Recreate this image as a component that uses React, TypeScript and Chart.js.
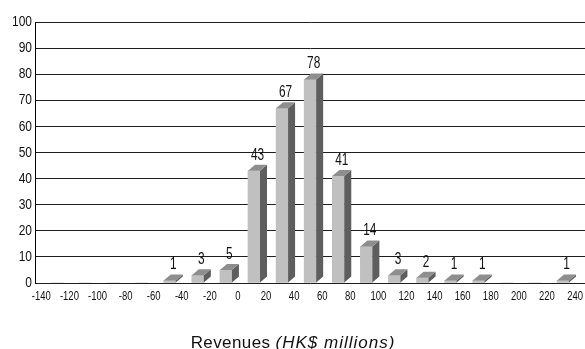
import React, { useEffect, useRef } from "react";
import { Chart, registerables } from "chart.js";

Chart.register(...registerables);

// ---- data ----
const binCenters = [-130, -110, -90, -70, -50, -30, -10, 10, 30, 50, 70, 90, 110, 130, 150, 170, 190, 210, 230];
const counts = [0, 0, 0, 0, 1, 3, 5, 43, 67, 78, 41, 14, 3, 2, 1, 1, 0, 0, 1];
const xTickValues = [-140, -120, -100, -80, -60, -40, -20, 0, 20, 40, 60, 80, 100, 120, 140, 160, 180, 200, 220, 240];
const yTickValues = [0, 10, 20, 30, 40, 50, 60, 70, 80, 90, 100];
const titleMain = "Revenues ";
const titleItalic = "(HK$ millions)";

// ---- style ----
const SANS = "'Liberation Sans', Arial, Helvetica, sans-serif";
const NARROW_SCALE = 0.8;
const DX = 7;
const DY = 6;
const FRONT = "#c0c0c0";
const SIDE = "#5e5e5e";
const TOP = "#8e8e8e";
const TEXT = "#111";

function narrowText(ctx: any, text: string, x: number, y: number, size: number, align: string, baseline: string, sx = NARROW_SCALE) {
  ctx.save();
  ctx.translate(x, y);
  ctx.scale(sx, 1);
  ctx.font = `${size}px ${SANS}`;
  ctx.fillStyle = TEXT;
  ctx.textAlign = align;
  ctx.textBaseline = baseline;
  ctx.fillText(text, 0, 0);
  ctx.restore();
}

const bar3dPlugin = {
  id: "bar3d",
  afterDatasetsDraw(chart: any) {
    const ctx = chart.ctx;
    const meta = chart.getDatasetMeta(0);
    ctx.save();
    meta.data.forEach((el: any, i: number) => {
      const v = counts[i];
      if (!v) return;
      const p = el.getProps(["x", "y", "base", "width"], true);
      const l = p.x - p.width / 2;
      const r = p.x + p.width / 2;
      const t = p.y;
      const b = p.base;
      ctx.fillStyle = SIDE;
      ctx.beginPath();
      ctx.moveTo(r, t);
      ctx.lineTo(r + DX, t - DY);
      ctx.lineTo(r + DX, b - DY);
      ctx.lineTo(r, b);
      ctx.closePath();
      ctx.fill();
      ctx.fillStyle = TOP;
      ctx.beginPath();
      ctx.moveTo(l, t);
      ctx.lineTo(l + DX, t - DY);
      ctx.lineTo(r + DX, t - DY);
      ctx.lineTo(r, t);
      ctx.closePath();
      ctx.fill();
      narrowText(ctx, String(v), p.x + DX / 2, t - 11, 16, "center", "alphabetic", 0.74);
    });
    ctx.restore();
  },
};

const labelsPlugin = {
  id: "axisLabels",
  afterDraw(chart: any) {
    const ctx = chart.ctx;
    const xs = chart.scales.x;
    const ys = chart.scales.y;
    yTickValues.forEach((v) => {
      narrowText(ctx, String(v), ys.right - 3, ys.getPixelForValue(v), 15, "right", "middle");
    });
    xTickValues.forEach((v) => {
      narrowText(ctx, String(v), xs.getPixelForValue(v) - 2, ys.bottom + 17, 12.5, "center", "alphabetic", 0.76);
    });
    // axis title, mixed styles
    ctx.save();
    ctx.fillStyle = TEXT;
    ctx.textBaseline = "alphabetic";
    ctx.textAlign = "left";
    ctx.font = `17px ${SANS}`;
    ctx.letterSpacing = "0.4px";
    const w1 = ctx.measureText(titleMain).width;
    ctx.font = `italic 17px ${SANS}`;
    ctx.letterSpacing = "1px";
    const w2 = ctx.measureText(titleItalic).width;
    const x0 = 293 - (w1 + w2) / 2;
    const yb = 348;
    ctx.font = `17px ${SANS}`;
    ctx.letterSpacing = "0.4px";
    ctx.fillText(titleMain, x0, yb);
    ctx.font = `italic 17px ${SANS}`;
    ctx.letterSpacing = "1px";
    ctx.fillText(titleItalic, x0 + w1, yb);
    ctx.restore();
  },
};

export default function App() {
  const ref = useRef<HTMLCanvasElement | null>(null);

  useEffect(() => {
    if (!ref.current) return;
    const chart = new Chart(ref.current, {
      type: "bar",
      data: {
        datasets: [
          {
            data: binCenters.map((c, i) => ({ x: c, y: counts[i] })),
            backgroundColor: FRONT,
            borderWidth: 0,
            barThickness: 12,
          },
        ],
      },
      options: {
        animation: false,
        responsive: false,
        devicePixelRatio: 1,
        layout: { padding: { top: 22, left: 0, right: 0, bottom: 0 } },
        plugins: {
          legend: { display: false },
          tooltip: { enabled: false },
          title: { display: false },
        },
        scales: {
          x: {
            type: "linear",
            offset: false,
            min: -145.92,
            max: 245.66,
            grid: { display: false, drawTicks: false },
            border: { display: false },
            afterBuildTicks: (scale: any) => {
              scale.ticks = xTickValues.map((v) => ({ value: v }));
            },
            afterFit: (scale: any) => {
              scale.height = 66;
            },
            ticks: { display: false },
          },
          y: {
            min: 0,
            max: 100,
            afterBuildTicks: (scale: any) => {
              scale.ticks = yTickValues.map((v) => ({ value: v }));
            },
            grid: { color: "#1e1e1e", lineWidth: 1, drawTicks: false },
            border: { display: true, color: "#000", width: 1 },
            afterFit: (scale: any) => {
              scale.width = 35;
            },
            ticks: { display: false },
          },
        },
      },
      plugins: [bar3dPlugin, labelsPlugin],
    } as any);
    return () => chart.destroy();
  }, []);

  return (
    <div style={{ position: "absolute", left: 0, top: 0, width: 585, height: 349, background: "#fff" }}>
      <canvas ref={ref} width={585} height={349} style={{ display: "block" }} />
    </div>
  );
}
